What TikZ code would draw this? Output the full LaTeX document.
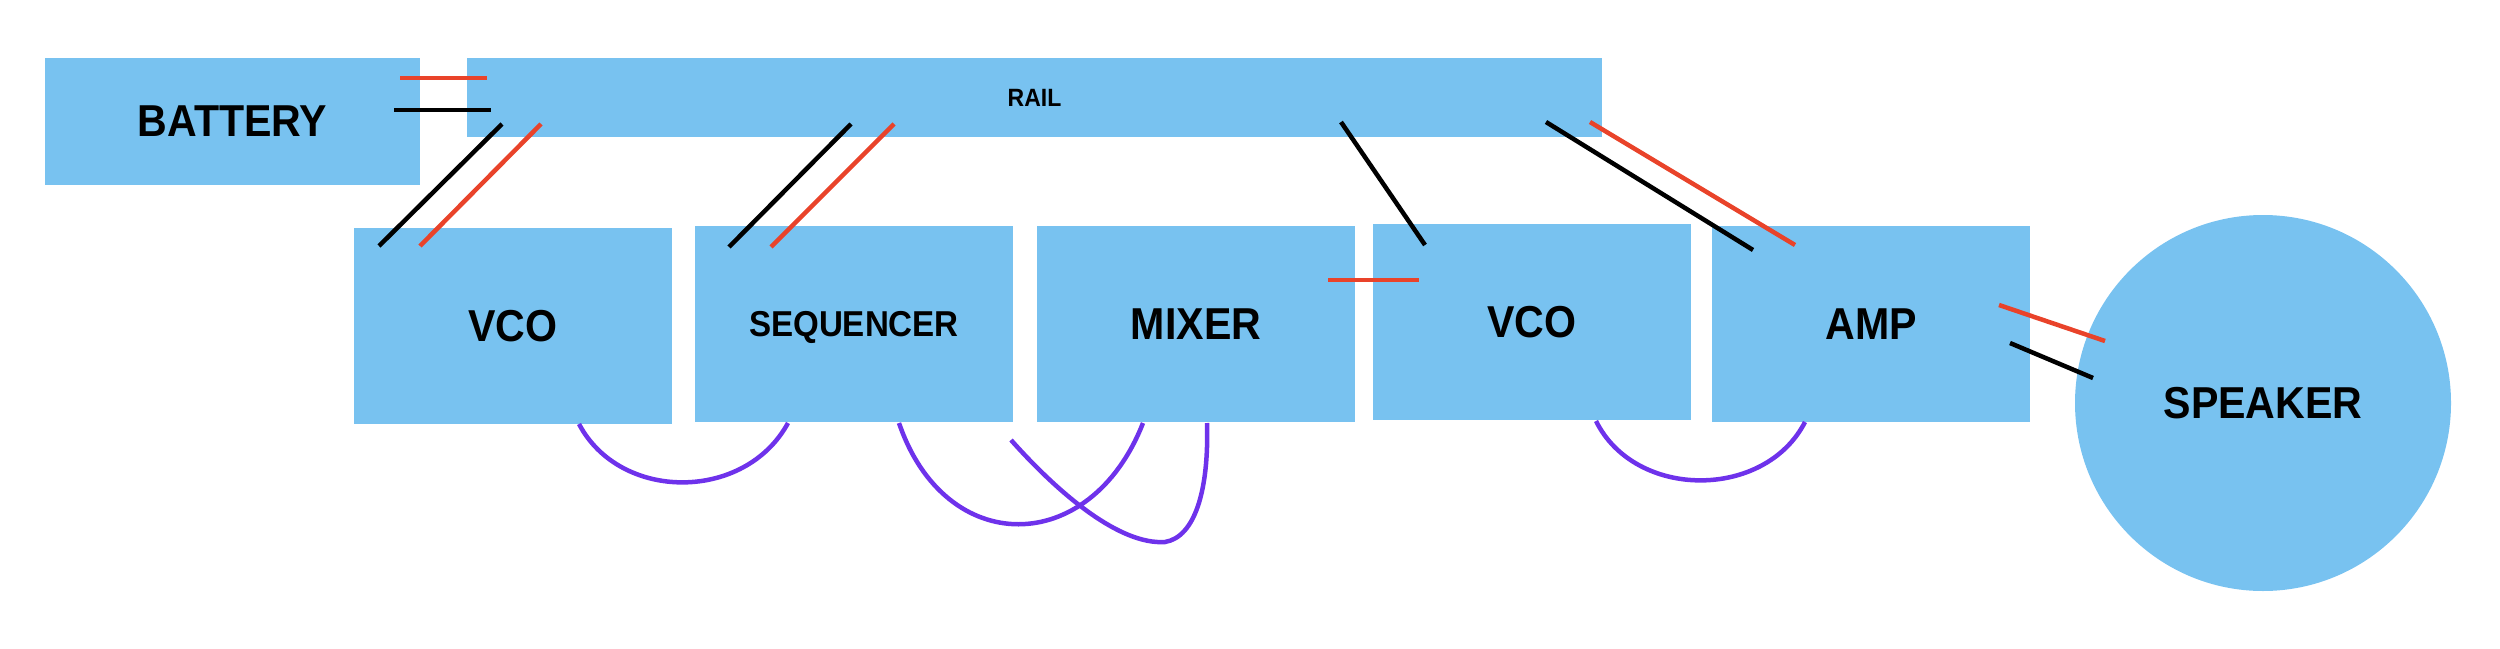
\documentclass[tikz,border=0pt]{standalone}
\usepackage{fontspec}
\setmainfont{Liberation Sans}[FakeStretch=0.92]
\definecolor{boxblue}{HTML}{78C2F0}
\definecolor{wirered}{HTML}{E9432A}
\definecolor{wirepurple}{HTML}{6E32EB}
\begin{document}
\begin{tikzpicture}[x=1pt,y=-1pt,
  blk/.style={fill=boxblue, draw=none, inner sep=0pt, text depth=0pt, font=\bfseries\fontsize{44.7}{50}\selectfont},
  redwire/.style={draw=wirered, line width=4.5pt},
  blackwire/.style={draw=black, line width=4.5pt},
  patch/.style={draw=wirepurple, line width=4.5pt}]
\useasboundingbox (0,0) rectangle (2500,648);
% blocks
\node[blk, minimum width=375pt, minimum height=127pt] (bat) at (232.5,121.5) {BATTERY};
\node[blk, minimum width=1135pt, minimum height=79pt, font=\bfseries\fontsize{25}{30}\selectfont] (rail) at (1034.5,97.5) {RAIL};
\node[blk, minimum width=318pt, minimum height=196pt] (vcoa) at (513,326) {VCO};
\node[blk, minimum width=318pt, minimum height=196pt, font=\bfseries\fontsize{36}{40}\selectfont] (seq) at (854,324) {SEQUENCER};
\node[blk, minimum width=318pt, minimum height=196pt] (mix) at (1196,324) {MIXER};
\node[blk, minimum width=318pt, minimum height=196pt] (vcob) at (1532,322) {VCO};
\node[blk, minimum width=318pt, minimum height=196pt] (amp) at (1871,324) {AMP};
\node[blk, circle, minimum size=376pt] (spk) at (2263,403) {SPEAKER};
% wire end points
\coordinate (br1) at (400,78);   \coordinate (rr1) at (487,78);
\coordinate (bk1) at (394,110);  \coordinate (rk1) at (491,110);
\coordinate (rk2) at (502,124);  \coordinate (vk2) at (379,246);
\coordinate (rr2) at (541,124);  \coordinate (vr2) at (420,246);
\coordinate (rk3) at (851,124);  \coordinate (sk3) at (729,247);
\coordinate (rr3) at (894,124);  \coordinate (sr3) at (771,247);
\coordinate (rk4) at (1341,122); \coordinate (vk4) at (1425,245);
\coordinate (rk5) at (1546,122); \coordinate (ak5) at (1753,250);
\coordinate (rr5) at (1590,122); \coordinate (ar5) at (1795,245);
\coordinate (mr6) at (1328,280); \coordinate (vr6) at (1419,280);
\coordinate (ar7) at (1999,305); \coordinate (sr7) at (2105,341);
\coordinate (ak8) at (2010,343); \coordinate (sk8) at (2093,378);
% power wires
\draw[redwire] (br1) -- (rr1);
\draw[blackwire] (bk1) -- (rk1);
\draw[blackwire] (rk2) -- (vk2);
\draw[redwire] (rr2) -- (vr2);
\draw[blackwire] (rk3) -- (sk3);
\draw[redwire] (rr3) -- (sr3);
\draw[blackwire] (rk4) -- (vk4);
\draw[blackwire] (rk5) -- (ak5);
\draw[redwire] (rr5) -- (ar5);
\draw[redwire] (mr6) -- (vr6);
\draw[redwire] (ar7) -- (sr7);
\draw[blackwire] (ak8) -- (sk8);
% patch cables
\coordinate (p1a) at (579,424);  \coordinate (p1b) at (788,423);
\coordinate (p2a) at (899,423);  \coordinate (p2b) at (1143,423);
\coordinate (p3a) at (1011,440); \coordinate (p3m) at (1165,542); \coordinate (p3b) at (1207,423);
\coordinate (p4a) at (1596,421); \coordinate (p4b) at (1805,422);
\draw[patch] (p1a) .. controls (620,502) and (745,502) .. (p1b);
\draw[patch] (p2a) .. controls (945,558) and (1090,558) .. (p2b);
\draw[patch] (p3a) .. controls (1060,495) and (1120,545) .. (p3m) .. controls (1195,537) and (1209,490) .. (p3b);
\draw[patch] (p4a) .. controls (1635,500) and (1765,500) .. (p4b);
\end{tikzpicture}
\end{document}
